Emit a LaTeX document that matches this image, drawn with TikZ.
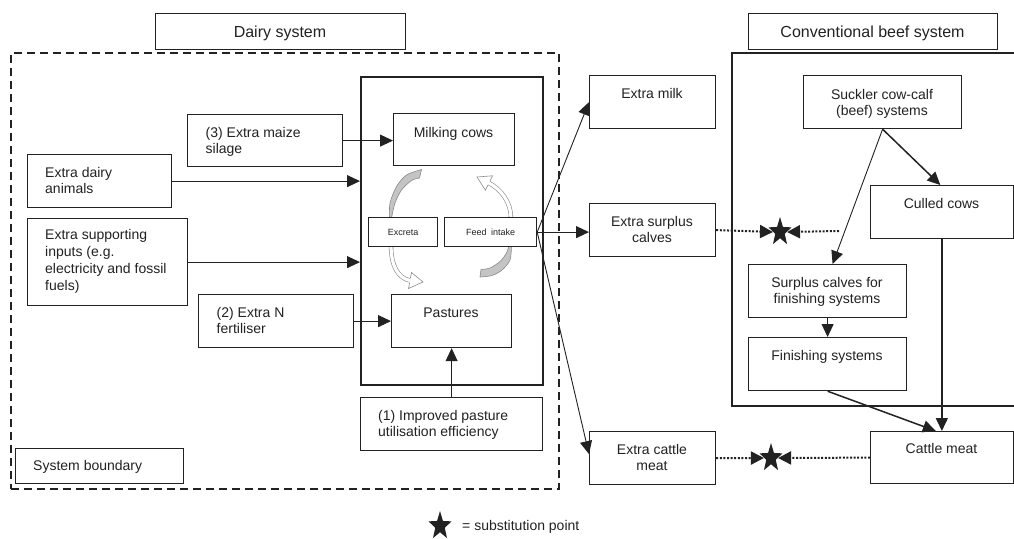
\documentclass[tikz,border=0pt]{standalone}
\usepackage{fontspec}
\setmainfont{Liberation Sans}
\usetikzlibrary{arrows.meta,shapes.geometric}
\definecolor{ln}{HTML}{222222}
\definecolor{gfill}{HTML}{C4C4C4}
\definecolor{gline}{HTML}{8A8A8A}
\tikzset{
  bx/.style={draw=ln, line width=1.2pt, fill=white, inner sep=0pt, anchor=north west},
  tc/.style={anchor=base, inner sep=0pt, text=ln, align=center, font=\fontsize{14}{16}\selectfont},
  tl/.style={tc, anchor=base west, align=left},
  tt/.style={tc, font=\fontsize{16}{19}\selectfont},
  ts/.style={inner sep=0pt, text=ln, font=\fontsize{9}{11}\selectfont},
  arr/.style={draw=ln, line width=0.9pt, -{Triangle[length=13pt,width=12pt]}},
  tarr/.style={arr, line width=1.5pt},
  dotarr/.style={draw=ln, line width=2pt, dash pattern=on 2pt off 1.6pt, -{Triangle[length=13pt,width=13pt]}},
  starn/.style={star, star points=5, star point ratio=2.4, minimum size=24pt, inner sep=0pt, fill=ln, draw=none, yscale=1.25},
  crescent/.style={draw=gline, fill=gfill, line width=0.6pt},
  band/.style={draw=gline, line width=0.6pt, double=white, double distance=3.2pt},
  head/.style={draw=gline, line width=0.6pt, line join=miter}
}
\begin{document}
\begin{tikzpicture}[x=1pt,y=-1pt]
\useasboundingbox (0,0) rectangle (1014,538);
% titles
\node[bx, minimum width=250pt, minimum height=36pt] (dairyT) at (155,13) {};
\node[tt] (dairyTt) at (280,37) {Dairy system};
\node[bx, minimum width=249pt, minimum height=36pt] (beefT) at (748,13) {};
\node[tt] (beefTt) at (872.5,37) {Conventional beef system};
% system boundary and frames
\node[bx, fill=none, dash pattern=on 8pt off 5pt, line width=1.8pt, minimum width=548pt, minimum height=436pt] (bound) at (10,52) {};
\node[bx, line width=1.8pt, minimum width=182pt, minimum height=308pt] (inner) at (360,76) {};
\draw[ln, line width=1.6pt] (1020,53) -- (732,53) -- (732,406) -- (1020,406);
% cycle arrows
\draw[crescent] plot[smooth] coordinates {(389.5,218) (390,203) (396.5,186.5) (406.5,175) (421.5,169.5)} -- (419.5,178)
  -- plot[smooth] coordinates {(419.5,178) (411.5,180.5) (401.5,190) (395,203) (391.5,218)} -- cycle;
\draw[crescent] plot[smooth] coordinates {(511.5,245) (510,260) (502,270) (492,275.5) (480,277)} -- (481,269.5)
  -- plot[smooth] coordinates {(481,269.5) (490,268) (500,261.5) (506.5,253) (509,245)} -- cycle;
\draw[band] (511,218) .. controls (511,203) and (502,190) .. (489,183);
\fill[white] (492.6,175.8) -- (477,177) -- (485.4,190.2) -- cycle;
\draw[head] (490,180.9) -- (492.6,175.8) -- (477,177) -- (485.4,190.2) -- (488,185.1);
\draw[band] (391,245) .. controls (391,266) and (398,278) .. (410,280.5);
\fill[white] (411.5,272.5) -- (423,282) -- (408.5,288.5) -- cycle;
\draw[head] (410.4,278.2) -- (411.5,272.5) -- (423,282) -- (408.5,288.5) -- (409.6,282.8);
% dairy boxes
\node[bx, minimum width=155pt, minimum height=52pt] (maize) at (187,114) {};
\node[tl] (maizet) at (205.5,153) {(3) Extra maize\\silage};
\node[bx, minimum width=121pt, minimum height=52pt] (milking) at (393,113) {};
\node[tc] (milkingt) at (453.5,137) {Milking cows};
\node[bx, minimum width=144pt, minimum height=53pt] (animals) at (27,154) {};
\node[tl] (animalst) at (45,193) {Extra dairy\\animals};
\node[bx, minimum width=160pt, minimum height=87pt] (support) at (27,218) {};
\node[tl, font=\fontsize{14}{16.7}\selectfont] (supportt) at (45,290) {Extra supporting\\inputs (e.g.\\electricity and fossil\\fuels)};
\node[bx, minimum width=69pt, minimum height=29pt] (excreta) at (368,217) {};
\node[ts] (excretat) at (excreta.center) {Excreta};
\node[bx, minimum width=92pt, minimum height=29pt] (feed) at (444,217) {};
\node[ts] (feedt) at (feed.center) {Feed\hspace{2pt} intake};
\node[bx, minimum width=155pt, minimum height=53pt] (nfert) at (198,294) {};
\node[tl] (nfertt) at (216.5,333) {(2) Extra N\\fertiliser};
\node[bx, minimum width=120pt, minimum height=53pt] (pastures) at (391,294) {};
\node[tc] (pasturest) at (451,317) {Pastures};
\node[bx, minimum width=182pt, minimum height=53pt] (improved) at (360,397) {};
\node[tl] (improvedt) at (378,436) {(1) Improved pasture\\utilisation efficiency};
\node[bx, minimum width=168pt, minimum height=35pt] (sysb) at (15,448) {};
\node[tl] (sysbt) at (33,470.5) {System boundary};
% outputs
\node[bx, minimum width=126pt, minimum height=53pt] (milk) at (589,75) {};
\node[tc] (milkt) at (652,98.5) {Extra milk};
\node[bx, minimum width=126pt, minimum height=53pt] (surplus) at (589,203) {};
\node[tc] (surplust) at (652,242) {Extra surplus\\calves};
\node[bx, minimum width=126pt, minimum height=53pt] (cmeat) at (589,431) {};
\node[tc] (cmeatt) at (652,470) {Extra cattle\\meat};
% beef boxes
\node[bx, minimum width=158pt, minimum height=53pt] (suckler) at (803,75) {};
\node[tc] (scklert) at (882,115) {Suckler cow-calf\\(beef) systems};
\node[bx, minimum width=142.5pt, minimum height=53pt] (culled) at (870,185) {};
\node[tc] (culledt) at (941.5,208) {Culled cows};
\node[bx, minimum width=158pt, minimum height=53pt] (fincalves) at (748,264) {};
\node[tc] (fincalvest) at (827,303.5) {Surplus calves for\\finishing systems};
\node[bx, minimum width=158pt, minimum height=53pt] (finsys) at (748,337) {};
\node[tc] (finsyst) at (827,360) {Finishing systems};
\node[bx, minimum width=142.5pt, minimum height=52pt] (cattle) at (870,431) {};
\node[tc] (cattlet) at (941.5,453) {Cattle meat};
% stars
\node[starn] (s1) at (780,232) {};
\node[starn] (s2) at (771,458) {};
\node[starn] (sleg) at (440,526) {};
\node[tc, anchor=base west] (legt) at (462,530.5) {= substitution point};
% dairy arrows
\draw[arr] (maize.east) -- (maize.east -| milking.west);
\draw[arr] (animals.east) -- (animals.east -| inner.west);
\draw[arr] (support.east) -- (support.east -| inner.west);
\draw[arr] (nfert.east) -- (nfert.east -| pastures.west);
\draw[arr] (improved.north) -- (pastures.south);
\draw[arr] (feed.east) -- (milk.west);
\draw[arr] (feed.east) -- (feed.east -| surplus.west);
\draw[arr] ([yshift=0pt]feed.east) -- ([yshift=4pt]cmeat.west);
% beef arrows
\draw[arr] (suckler.south) -- ([xshift=5pt]fincalves.north);
\draw[tarr] (suckler.south) -- ([xshift=-1.5pt]culled.north);
\draw[arr] (fincalves.south) -- (finsys.north);
\draw[tarr] (culled.south) -- (culled.south |- cattle.north);
\draw[tarr] (finsys.south) -- ([xshift=-6pt]cattle.north);
% substitution links
\coordinate (c1) at (839,231);
\draw[dotarr] (surplus.east) -- (s1.west);
\draw[dotarr] (c1) -- (s1.east);
\draw[dotarr] (cmeat.east) -- (s2.west);
\draw[dotarr] (cattle.west) -- (s2.east);
\end{tikzpicture}
\end{document}
